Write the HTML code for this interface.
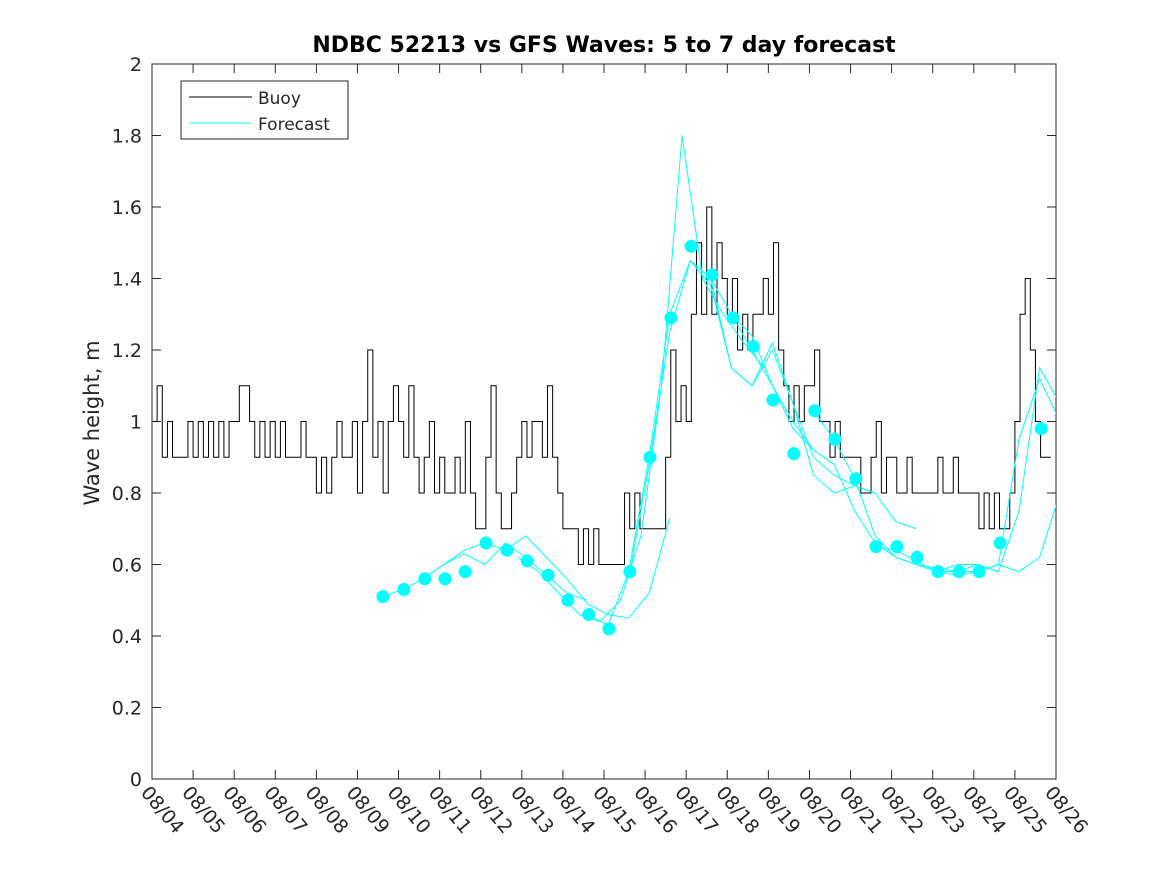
<!DOCTYPE html>
<html><head><meta charset="utf-8"><style>
body{margin:0;background:#fff;}
svg text{font-family:"DejaVu Sans","Liberation Sans",sans-serif;fill:#262626;}
</style></head><body>
<svg id="c" width="1167" height="875" xmlns="http://www.w3.org/2000/svg">
<rect width="1167" height="875" fill="#fff"/>
<text x="604" y="52" text-anchor="middle" font-size="22" font-weight="bold" style="fill:#000">NDBC 52213 vs GFS Waves: 5 to 7 day forecast</text>
<text transform="translate(99,423) rotate(-90)" text-anchor="middle" font-size="21">Wave height, m</text>
<g id="axes"></g>
<g id="series"></g>
<g>
<rect x="181" y="81" width="167" height="58" fill="#fff" stroke="#262626" stroke-width="1"/>
<line x1="189" y1="97" x2="252" y2="97" stroke="#000"/>
<text x="258" y="104" font-size="17">Buoy</text>
<line x1="189" y1="123" x2="252" y2="123" stroke="#00ffff"/>
<text x="258" y="130" font-size="17">Forecast</text>
</g>
</svg>
<script>
const dayLabels=["08/04","08/05","08/06","08/07","08/08","08/09","08/10","08/11","08/12","08/13","08/14","08/15","08/16","08/17","08/18","08/19","08/20","08/21","08/22","08/23","08/24","08/25","08/26"];
const yTicks=[0,0.2,0.4,0.6,0.8,1,1.2,1.4,1.6,1.8,2];
const yTickLabels=["0","0.2","0.4","0.6","0.8","1","1.2","1.4","1.6","1.8","2"];
const buoyStep=0.125;
const buoyValues=[
1.0,1.1,0.9,1.0,0.9,0.9,0.9,1.0, 0.9,1.0,0.9,1.0,0.9,1.0,0.9,1.0,
1.0,1.1,1.1,1.0,0.9,1.0,0.9,1.0, 0.9,1.0,0.9,0.9,0.9,1.0,0.9,0.9,
0.8,0.9,0.8,0.9,1.0,0.9,0.9,1.0, 0.8,1.0,1.2,0.9,1.0,0.8,1.0,1.1,
1.0,0.9,1.1,0.9,0.8,0.9,1.0,0.8, 0.9,0.8,0.8,0.9,0.8,1.0,0.8,0.7,
0.7,0.9,1.1,0.8,0.7,0.7,0.8,0.9, 1.0,0.9,1.0,1.0,0.9,1.1,0.9,0.8,
0.7,0.7,0.7,0.6,0.7,0.6,0.7,0.6, 0.6,0.6,0.6,0.6,0.8,0.7,0.8,0.7,
0.7,0.7,0.7,0.7,0.9,1.2,1.0,1.1, 1.0,1.3,1.5,1.3,1.6,1.3,1.5,1.4,
1.3,1.4,1.2,1.3,1.2,1.3,1.3,1.4, 1.3,1.5,1.2,1.1,1.0,1.1,1.0,1.1,
1.1,1.2,1.0,1.0,0.9,1.0,0.9,0.9, 0.9,0.9,0.8,0.8,0.9,1.0,0.8,0.9,
0.9,0.8,0.8,0.9,0.8,0.8,0.8,0.8, 0.8,0.9,0.8,0.8,0.9,0.8,0.8,0.8,
0.8,0.7,0.8,0.7,0.8,0.7,0.7,0.8, 1.0,1.3,1.4,1.2,1.0,0.9,0.9];
const markerDays=[5.62,6.13,6.64,7.13,7.62,8.13,8.64,9.13,9.64,10.12,10.63,11.12,11.63,12.12,12.63,13.12,13.63,14.14,14.63,15.11,15.62,16.13,16.62,17.13,17.62,18.13,18.62,19.13,19.64,20.13,20.64,21.64];
const markerValues=[0.51,0.53,0.56,0.56,0.58,0.66,0.64,0.61,0.57,0.50,0.46,0.42,0.58,0.90,1.29,1.49,1.41,1.29,1.21,1.06,0.91,1.03,0.95,0.84,0.65,0.65,0.62,0.58,0.58,0.58,0.66,0.98];
const runStarts=[5.6,6.6,8.9,10.6,11.6,13.1,14.1,16.1,17.6,19.1];
const run1=[0.51,0.53,0.56,0.60,0.63,0.60,0.66,0.62,0.57,0.52,0.50];
const run2=[0.56,0.60,0.64,0.66,0.64,0.68,0.62,0.56,0.49,0.46,0.45,0.52,0.73];
const run3=[0.62,0.58,0.52,0.46,0.44,0.50,0.68,1.10,1.80,1.40,1.30,1.22,1.15];
const run4=[0.46,0.43,0.58,0.90,1.30,1.45,1.40,1.30,1.20,1.10,1.00,0.92,0.88];
const run5=[0.56,0.88,1.25,1.45,1.40,1.15,1.10,1.22,1.05,0.90,0.85,0.82,0.80];
const run6=[1.45,1.38,1.15,1.10,1.20,1.05,0.85,0.80,0.82,0.80,0.72,0.70];
const run7=[1.30,1.24,1.10,0.98,0.92,0.88,0.75,0.66,0.62,0.60,0.59,0.58,0.60,0.58];
const run8=[1.03,0.95,0.84,0.68,0.62,0.60,0.58,0.57,0.58,0.60,0.58,0.62,0.80];
const run9=[0.65,0.64,0.61,0.58,0.60,0.60,0.58,0.75,1.15,1.05,1.00];
const run10=[0.58,0.58,0.58,0.60,0.95,1.12,1.00,0.92];
const runs=[run1,run2,run3,run4,run5,run6,run7,run8,run9,run10];
const runStep=0.5;

const L=152,R=1056,T=64,B=779,X0=0,X1=22,Y0=0,Y1=2;
const xs=d=>L+(d-X0)/(X1-X0)*(R-L);
const ys=v=>B-(v-Y0)/(Y1-Y0)*(B-T);
const NS="http://www.w3.org/2000/svg";
const mk=(t,a,p)=>{const e=document.createElementNS(NS,t);for(const k in a)e.setAttribute(k,a[k]);p.appendChild(e);return e;};
const ax=document.getElementById('axes'),sr=document.getElementById('series');
const clip=mk('clipPath',{id:'pc'},ax);mk('rect',{x:L,y:T,width:R-L,height:B-T},clip);
const frame=mk('rect',{x:L,y:T,width:R-L,height:B-T,fill:'none',stroke:'#262626','stroke-width':1},ax);


yTicks.forEach((v,i)=>{const y=ys(v);
mk('line',{x1:L,y1:y,x2:L+9,y2:y,stroke:'#262626'},ax);mk('line',{x1:R,y1:y,x2:R-9,y2:y,stroke:'#262626'},ax);
const t=mk('text',{x:L-10,y:y+7,'text-anchor':'end','font-size':19},ax);t.textContent=yTickLabels[i];

});
dayLabels.forEach((s,i)=>{const x=xs(i);
mk('line',{x1:x,y1:B,x2:x,y2:B-9,stroke:'#262626'},ax);mk('line',{x1:x,y1:T,x2:x,y2:T+9,stroke:'#262626'},ax);
const t=mk('text',{x:0,y:0,'font-size':19,transform:`translate(${x-12},${B+14}) rotate(50)`},ax);t.textContent=s;

});
const g=mk('g',{'clip-path':'url(#pc)'},sr);
let d='';buoyValues.forEach((v,i)=>{const x=xs(i*buoyStep),y=ys(v);if(i===0)d+=`M${x},${y}`;else d+=`V${y}`;d+=`H${xs((i+1)*buoyStep)}`;});
const bl=mk('path',{d:d,fill:'none',stroke:'#000','stroke-width':1},g);


runs.forEach((r,k)=>{const pts=r.map((v,i)=>`${xs(runStarts[k]+i*runStep)},${ys(v)}`).join(' ');
const p=mk('polyline',{points:pts,fill:'none',stroke:'#00ffff','stroke-width':1},g);

});
markerDays.forEach((dd,i)=>{const c=mk('circle',{cx:xs(dd),cy:ys(markerValues[i]),r:6.5,fill:'#00ffff'},g);

});
</script>
</body></html>
